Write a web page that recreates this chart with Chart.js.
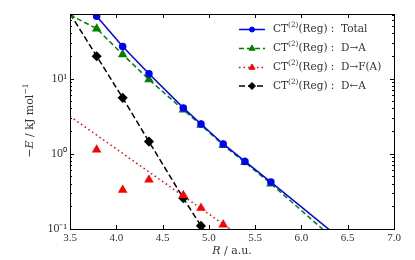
<!DOCTYPE html>
<html>
<head>
<meta charset="utf-8">
<script src="https://cdn.jsdelivr.net/npm/chart.js@4.4.1/dist/chart.umd.min.js"></script>
<style>
  html, body { margin: 0; padding: 0; background: #fff; }
</style>
</head>
<body>
<canvas id="c" width="415" height="260"></canvas>
<script>
// R in a.u., -E in kJ/mol
const rTotal = [3.788, 4.069, 4.353, 4.724, 4.915, 5.155, 5.39, 5.67, 6.8];
const eTotal = [67, 26.7, 11.6, 4.07, 2.49, 1.35, 0.79, 0.42, 0.031];

const rDA = [3.5, 3.788, 4.069, 4.353, 4.724, 4.915, 5.155, 5.39, 5.67, 6.8];
const eDA = [70, 46, 20.9, 9.7, 3.83, 2.41, 1.3, 0.77, 0.40, 0.024];

const rDFA = [3.788, 4.069, 4.353, 4.724, 4.915, 5.155];
const eDFA = [1.13, 0.33, 0.45, 0.28, 0.19, 0.114];
// dotted fit line through the D->F(A) points
const rDFAfit = [3.5, 5.23];
const eDFAfit = [3.14, 0.1];

const rAD = [3.5, 3.788, 4.069, 4.353, 4.724, 4.915, 5.155];
const eAD = [73, 19.8, 5.53, 1.45, 0.257, 0.110, 0.038];

const xTicks = [3.5, 4.0, 4.5, 5.0, 5.5, 6.0, 6.5, 7.0];
const yMajor = [0.1, 1, 10];
const yLabels = ['10\u207B\u00B9', '10\u2070', '10\u00B9'];

const legendText = ['Total', 'D\u2192A', 'D\u2192F(A)', 'D\u2190A'];

const SERIF = '"DejaVu Serif", serif';
const TICKFONT = '"Liberation Serif", serif';

function pts(r, e) { return r.map((x, i) => ({ x: x, y: e[i] })); }

// text with italic / superscript pieces
function richWidth(ctx, parts, size) {
    let w = 0;
    parts.forEach(p => {
        ctx.font = (p.it ? 'italic ' : '') + (p.sup ? size * 0.7 : size) + 'px ' + SERIF;
        w += ctx.measureText(p.t).width;
    });
    return w;
}
function drawRich(ctx, parts, x, y, size) {
    parts.forEach(p => {
        const s = p.sup ? size * 0.7 : size;
        ctx.font = (p.it ? 'italic ' : '') + s + 'px ' + SERIF;
        ctx.fillText(p.t, x, p.sup ? y - size * 0.4 : y);
        x += ctx.measureText(p.t).width;
    });
}

const decor = {
    id: 'decor',
    afterDatasetsDraw(chart) {
        const { ctx, chartArea: a, scales: { x, y } } = chart;
        ctx.save();
        ctx.strokeStyle = '#000';
        ctx.lineWidth = 1;
        ctx.setLineDash([]);

        // inward ticks on all four sides
        ctx.beginPath();
        xTicks.forEach(v => {
            const px = Math.round(x.getPixelForValue(v)) + 0.5;
            ctx.moveTo(px, a.bottom); ctx.lineTo(px, a.bottom - 4);
            ctx.moveTo(px, a.top); ctx.lineTo(px, a.top + 4);
        });
        for (let e = -1; e <= 1; e++) {
            for (let m = 1; m <= 9; m++) {
                const v = m * Math.pow(10, e);
                if (v < y.min || v > y.max) continue;
                const py = Math.round(y.getPixelForValue(v)) + 0.5;
                const len = m === 1 ? 4 : 2;
                ctx.moveTo(a.left, py); ctx.lineTo(a.left + len, py);
                ctx.moveTo(a.right, py); ctx.lineTo(a.right - len, py);
            }
        }
        ctx.stroke();
        ctx.strokeRect(Math.round(a.left) + 0.5, Math.round(a.top) + 0.5,
            Math.round(a.right - a.left), Math.round(a.bottom - a.top));

        // legend
        const ds = chart.data.datasets;
        const items = [
            { line: ds[0], mark: ds[0] },
            { line: ds[1], mark: ds[1] },
            { line: ds[3], mark: ds[2] },
            { line: ds[4], mark: ds[4] }
        ];
        const rowY = [29.5, 48.5, 67.5, 86];
        items.forEach((it, i) => {
            const cy = rowY[i];
            ctx.strokeStyle = it.line.borderColor;
            ctx.lineWidth = it.line.borderWidth;
            ctx.setLineDash(it.line.borderDash || []);
            ctx.beginPath();
            ctx.moveTo(239, cy); ctx.lineTo(265, cy);
            ctx.stroke();
            ctx.setLineDash([]);
            ctx.fillStyle = it.mark.pointBackgroundColor;
            ctx.strokeStyle = it.mark.pointBorderColor;
            ctx.lineWidth = 1;
            Chart.helpers.drawPoint(ctx, {
                pointStyle: it.mark.pointStyle, radius: it.mark.pointRadius - 0.5,
                rotation: 0, borderWidth: 1
            }, 252, cy);
            ctx.fillStyle = '#333';
            ctx.textBaseline = 'middle';
            ctx.textAlign = 'left';
            drawRich(ctx, [{ t: 'CT' }, { t: '(2)', sup: true }, { t: '(Reg) :  ' + legendText[i] }], 273, cy, 10.5);
        });

        // axis titles
        ctx.fillStyle = '#333';
        ctx.textBaseline = 'middle';
        const xt = [{ t: 'R', it: true }, { t: ' / a.u.' }];
        drawRich(ctx, xt, (a.left + a.right) / 2 - richWidth(ctx, xt, 11) / 2, 251, 11);

        const yt = [{ t: '\u2212' }, { t: 'E', it: true }, { t: ' / kJ mol' }, { t: '\u22121', sup: true }];
        ctx.translate(30, (a.top + a.bottom) / 2 - 1);
        ctx.rotate(-Math.PI / 2);
        drawRich(ctx, yt, -richWidth(ctx, yt, 11) / 2, 0, 11);
        ctx.restore();
    }
};

new Chart(document.getElementById('c'), {
    type: 'scatter',
    data: {
        datasets: [
            {
                label: 'Total', data: pts(rTotal, eTotal), showLine: true,
                borderColor: '#0000ff', borderWidth: 1.5,
                pointStyle: 'circle', pointRadius: 3,
                pointBackgroundColor: '#0000ff', pointBorderColor: '#0000ff'
            },
            {
                label: 'D->A', data: pts(rDA, eDA), showLine: true,
                borderColor: '#008000', borderWidth: 1.5, borderDash: [5, 3],
                pointStyle: 'triangle', pointRadius: 4,
                pointBackgroundColor: '#008000', pointBorderColor: '#008000'
            },
            {
                label: 'D->F(A)', data: pts(rDFA, eDFA), showLine: false,
                borderColor: '#ff0000', borderWidth: 1.5,
                pointStyle: 'triangle', pointRadius: 4,
                pointBackgroundColor: '#ff0000', pointBorderColor: '#ff0000'
            },
            {
                label: 'D->F(A) fit', data: pts(rDFAfit, eDFAfit), showLine: true,
                borderColor: '#ff0000', borderWidth: 1.5, borderDash: [1.5, 3],
                pointRadius: 0
            },
            {
                label: 'D<-A', data: pts(rAD, eAD), showLine: true,
                borderColor: '#000000', borderWidth: 1.5, borderDash: [6, 3],
                pointStyle: 'rectRot', pointRadius: 4,
                pointBackgroundColor: '#000000', pointBorderColor: '#000000'
            }
        ]
    },
    options: {
        responsive: false,
        animation: false,
        layout: { padding: { top: 14, right: 21, left: 0, bottom: 0 } },
        plugins: { legend: { display: false }, tooltip: { enabled: false } },
        scales: {
            x: {
                type: 'linear', min: 3.5, max: 7.0,
                afterBuildTicks: s => { s.ticks = xTicks.map(v => ({ value: v })); },
                afterFit: s => { s.height = 31; },
                grid: { display: false, drawTicks: false },
                border: { display: false },
                ticks: {
                    padding: 3, color: '#333', maxRotation: 0,
                    font: { family: TICKFONT, size: 11 },
                    callback: v => v.toFixed(1)
                }
            },
            y: {
                type: 'logarithmic', min: 0.1, max: 72,
                afterBuildTicks: s => { s.ticks = yMajor.map(v => ({ value: v })); },
                afterFit: s => { s.width = 70; },
                grid: { display: false, drawTicks: false },
                border: { display: false },
                ticks: {
                    padding: 3, color: '#333', autoSkip: false,
                    font: { family: TICKFONT, size: 12 },
                    callback: (v, i) => yLabels[yMajor.indexOf(v)]
                }
            }
        }
    },
    plugins: [decor]
});
</script>
</body>
</html>
